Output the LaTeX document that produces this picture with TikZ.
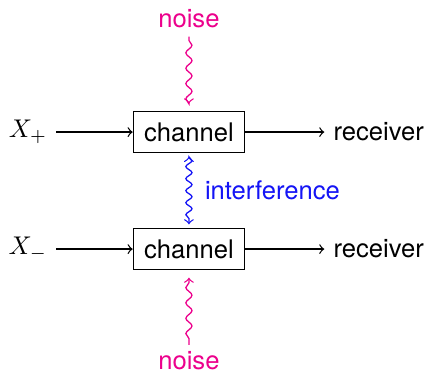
\documentclass[tikz,border=0pt]{standalone}
\usepackage{fontspec}
\setmainfont{TeX Gyre Heros}
\usetikzlibrary{decorations.pathmorphing}
\definecolor{noisepink}{RGB}{236,0,140}
\definecolor{interblue}{RGB}{20,20,245}
\tikzset{
  chan/.style={draw, inner sep=4.2pt},
  wave/.style={decorate, decoration={snake, amplitude=1.2pt, segment length=#1, pre length=1.5pt, post length=2pt}},
  wave/.default=6pt
}
\begin{document}
\begin{tikzpicture}[x=1pt, y=1pt, line width=0.5pt]
        \useasboundingbox (0,0) rectangle (166.4,146.1);
        % node
        \node[chan] (ch1) at (73.8,94.5) {channel};
        \node[chan] (ch2) at (73.8,48.8) {channel};
        \node (xp) at (10.9,94.5) {$X_+$};
        \node (xm) at (10.9,48.8) {$X_-$};
        \node (rx1) at (147.9,94.5) {receiver};
        \node (rx2) at (147.9,48.8) {receiver};
        \node[text=noisepink] (n1) at (73.8,139) {noise};
        \node[text=noisepink] (n2) at (73.8,5.2) {noise};
        \node[text=interblue] (intf) at (106.4,71.9) {interference};
        % lines
        \draw[->] (xp) -- (ch1);
        \draw[->] (xm) -- (ch2);
        \draw[->] (ch1) -- (rx1);
        \draw[->] (ch2) -- (rx2);
        \draw[->, noisepink, wave, shorten >=3pt] (n1) -- (ch1);
        \draw[->, noisepink, wave, shorten >=3pt, shorten <=-1pt] (n2) -- (ch2);
        \draw[<->, interblue, wave=4.7pt, shorten >=1.5pt, shorten <=1.5pt] (ch1) -- (ch2);
      \end{tikzpicture}
\end{document}
